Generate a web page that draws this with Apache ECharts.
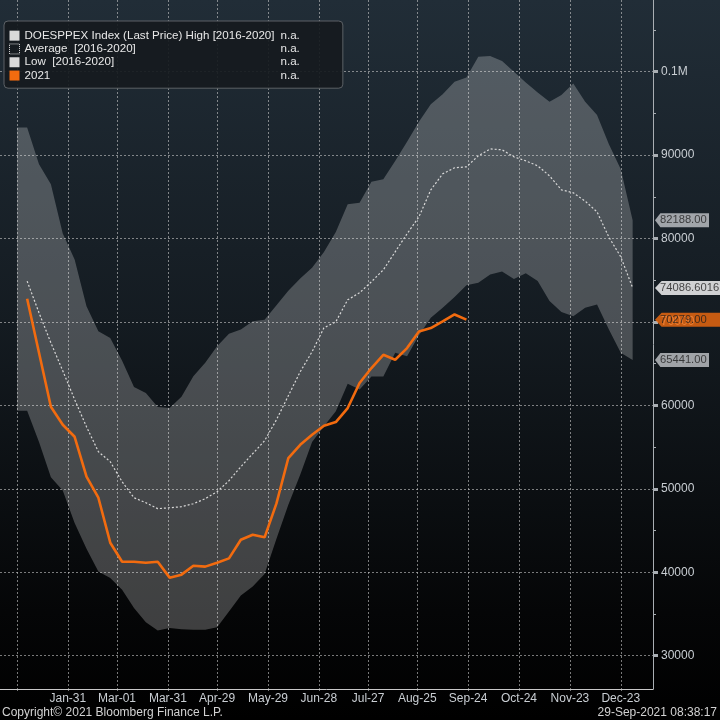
<!DOCTYPE html>
<html>
<head>
<meta charset="utf-8">
<title>DOESPPEX seasonality</title>
<script src="https://cdn.jsdelivr.net/npm/echarts@6/dist/echarts.min.js"></script>
<style>
    html, body { margin: 0; padding: 0; background: #000; }
    #chart { width: 720px; height: 720px; }
</style>
</head>
<body>
<div id="chart"></div>
<script>
    // day of year (0 = Jan 01) of each weekly point
    var weekDays = [0, 6, 13, 20, 27, 34, 41, 48, 55, 62, 69, 76, 83, 90, 97, 104, 111, 118, 125, 132,
        139, 146, 153, 160, 167, 174, 181, 188, 195, 202, 209, 216, 223, 230, 237, 244, 251, 258, 265,
        272, 279, 286, 293, 300, 307, 314, 321, 328, 335, 342, 349, 356, 363];

    var highVals = [93300, 93300, 88900, 86500, 80600, 77500, 71900, 68880, 68070, 65350, 62200, 61500,
        59800, 59700, 61050, 63500, 65100, 67100, 68600, 69100, 70100, 70260, 72000, 73750, 75200, 76500,
        78400, 80800, 84100, 84300, 86800, 87100, 89300, 91600, 94000, 96100, 97300, 98800, 99300, 101800,
        101900, 101300, 100000, 98700, 97500, 96400, 97200, 98600, 96400, 94800, 91300, 88300, 82188];

    var lowVals = [59360, 59360, 55600, 51400, 49800, 45900, 42800, 40100, 39300, 37900, 35700, 34000,
        33000, 33300, 33150, 33100, 33100, 33400, 35300, 37200, 38300, 39800, 44000, 48100, 51700, 55600,
        57500, 59300, 62600, 61900, 63450, 63450, 66300, 65900, 68400, 70500, 71700, 73000, 74400, 74700,
        75700, 76050, 75150, 75850, 74900, 72500, 71200, 70700, 71700, 72100, 69100, 66300, 65441];

    var avgVals = [null, 74900, 71100, 67500, 64150, 60700, 57440, 54450, 53250, 50850, 48930, 48330,
        47620, 47730, 47850, 48210, 48810, 49650, 50970, 52650, 54210, 55760, 58280, 61160, 64030, 66430,
        69300, 70020, 72660, 73500, 74820, 76250, 78410, 80570, 82600, 85840, 87760, 88480, 88600, 89920,
        90750, 90640, 89800, 89320, 88720, 87520, 85840, 85480, 84490, 83200, 80170, 77810, 74086.6016];

    var vals2021 = [null, 72780, 66300, 59840, 57680, 56240, 51450, 48930, 43540, 41260, 41260, 41140,
        41260, 39350, 39710, 40780, 40670, 41140, 41660, 43900, 44500, 44180, 48250, 53690, 55280, 56480,
        57560, 58000, 59680, 62680, 64480, 66070, 65470, 66870, 68860, 69270, 70060, 70900, 70279];

    var tickDays = [30, 59, 89, 118, 148, 178, 207, 236, 266, 296, 326, 356];
    var tickLabels = ['Jan-31', 'Mar-01', 'Mar-31', 'Apr-29', 'May-29', 'Jun-28', 'Jul-27', 'Aug-25',
        'Sep-24', 'Oct-24', 'Nov-23', 'Dec-23'];
    var yTicks = [30000, 40000, 50000, 60000, 70000, 80000, 90000, 100000];
    var yMinorTicks = [35000, 45000, 55000, 65000, 75000, 85000, 95000, 105000];

    var highName = 'DOESPPEX Index (Last Price) High [2016-2020]';
    var avgName = 'Average  [2016-2020]';
    var lowName = 'Low  [2016-2020]';
    var curName = '2021';

    var orange = '#f26b0f';

    function pairs(vals) {
        var out = [];
        for (var i = 0; i < vals.length; i++) {
            out.push([weekDays[i], vals[i]]);
        }
        return out;
    }

    var bandData = weekDays.map(function (d, i) { return [d, lowVals[i], highVals[i]]; });

    function last(arr) { return arr[arr.length - 1]; }

    var tagData = [
        { value: [375, last(highVals)], text: last(highVals).toFixed(2), color: '#c4c7ca', w: 54 },
        { value: [375, last(avgVals)], text: last(avgVals).toFixed(4), color: '#ffffff', w: 66 },
        { value: [375, last(vals2021)], text: last(vals2021).toFixed(2), color: orange, w: 66 },
        { value: [375, last(lowVals)], text: last(lowVals).toFixed(2), color: '#c4c7ca', w: 54 }
    ].map(function (t) {
        return {
            value: t.value,
            symbolSize: [t.w, 14],
            symbolOffset: [t.w / 2 + 2, 0],
            itemStyle: { color: t.color },
            label: { formatter: t.text }
        };
    });

    var myChart = echarts.init(document.getElementById('chart'), null, { renderer: 'canvas' });

    var txt = '#c9ced3';
    var font = 'Liberation Sans';
    var gridLine = { color: 'rgba(200,200,200,0.6)', type: [2, 2], width: 1 };

    var option = {
        animation: false,
        backgroundColor: new echarts.graphic.LinearGradient(0, 0, 0, 1, [
            { offset: 0, color: '#212d37' },
            { offset: 0.45, color: '#141b21' },
            { offset: 0.85, color: '#050607' },
            { offset: 1, color: '#000000' }
        ]),
        textStyle: { fontFamily: font },
        grid: { left: 0, right: 67, top: 0, bottom: 31 },
        title: [
            {
                text: 'Copyright\u00a9 2021 Bloomberg Finance L.P.',
                left: 2, bottom: 1, padding: 0,
                textStyle: { color: '#d2d2d2', fontSize: 12, fontWeight: 'normal', fontFamily: font }
            },
            {
                text: '29-Sep-2021 08:38:17',
                right: 3, bottom: 1, padding: 0,
                textStyle: { color: '#d2d2d2', fontSize: 12, fontWeight: 'normal', fontFamily: font }
            }
        ],
        legend: {
            orient: 'vertical',
            left: 4, top: 21,
            padding: [8, 43, 6, 5],
            itemWidth: 10, itemHeight: 10, itemGap: 0,
            backgroundColor: 'rgba(22,26,30,0.92)',
            borderColor: '#5c6166', borderWidth: 1, borderRadius: 4,
            selectedMode: false,
            textStyle: {
                color: '#e8e8e8', fontSize: 11.6, fontFamily: font, lineHeight: 13.3,
                rich: { a: { width: 256, lineHeight: 13.3 }, b: { lineHeight: 13.3 } }
            },
            formatter: function (name) { return '{a|' + name + '}{b|n.a.}'; },
            data: [
                { name: highName, icon: 'rect', itemStyle: { color: '#d9d9d9', borderWidth: 0 } },
                { name: avgName, icon: 'rect', itemStyle: { color: 'rgba(0,0,0,0)', borderColor: '#dddddd', borderWidth: 1, borderType: 'dotted' } },
                { name: lowName, icon: 'rect', itemStyle: { color: '#d9d9d9', borderWidth: 0 } },
                { name: curName, icon: 'rect', itemStyle: { color: orange, borderWidth: 0 } }
            ]
        },
        xAxis: {
            type: 'value',
            min: -10, max: 375,
            axisLine: { show: true, onZero: false, lineStyle: { color: '#c8c8c8', width: 1 } },
            axisTick: { show: true, length: 2, customValues: [0].concat(tickDays), lineStyle: { color: 'rgba(200,200,200,0.6)', width: 1 } },
            axisLabel: {
                customValues: tickDays,
                color: txt, fontSize: 12, margin: 4, fontFamily: font,
                formatter: function (v) {
                    var i = tickDays.indexOf(v);
                    return i >= 0 ? tickLabels[i] : '';
                }
            },
            splitLine: { show: true, lineStyle: gridLine }
        },
        yAxis: [
            {
                type: 'value',
                position: 'right',
                min: 26000, max: 108600,
                axisLine: { show: true, onZero: false, lineStyle: { color: '#a9aeb3', width: 1 } },
                axisTick: { show: true, length: 5, customValues: yTicks, lineStyle: { color: '#a9aeb3', width: 3 } },
                axisLabel: {
                    customValues: yTicks,
                    color: txt, fontSize: 12, margin: 8, fontFamily: font,
                    formatter: function (v) { return v === 100000 ? '0.1M' : String(v); }
                },
                splitLine: { show: true, lineStyle: gridLine }
            },
            {
                type: 'value',
                position: 'right',
                min: 26000, max: 108600,
                axisLine: { show: false, onZero: false },
                axisTick: { show: true, length: 3, customValues: yMinorTicks, lineStyle: { color: '#a9aeb3', width: 1 } },
                axisLabel: { show: false },
                splitLine: { show: false }
            }
        ],
        series: [
            {
                name: highName,
                type: 'custom',
                silent: true,
                z: 1,
                data: bandData,
                renderItem: function (params, api) {
                    if (params.dataIndex !== 0) return null;
                    var top = [], bottom = [];
                    for (var i = 0; i < bandData.length; i++) {
                        top.push(api.coord([bandData[i][0], bandData[i][2]]));
                        bottom.unshift(api.coord([bandData[i][0], bandData[i][1]]));
                    }
                    return {
                        type: 'polygon',
                        shape: { points: top.concat(bottom) },
                        style: { fill: 'rgba(255,255,255,0.235)', stroke: 'none' }
                    };
                }
            },
            {
                name: lowName,
                type: 'line',
                silent: true,
                symbol: 'none',
                data: pairs(lowVals),
                lineStyle: { opacity: 0 },
                itemStyle: { color: '#d9d9d9' }
            },
            {
                name: avgName,
                type: 'line',
                silent: true,
                symbol: 'none',
                z: 3,
                data: pairs(avgVals),
                lineStyle: { color: '#d8d8d8', width: 1.2, type: [2, 2] },
                itemStyle: { color: '#d8d8d8' }
            },
            {
                name: curName,
                type: 'line',
                silent: true,
                symbol: 'none',
                z: 4,
                data: pairs(vals2021),
                lineStyle: { color: orange, width: 2.6 },
                itemStyle: { color: orange }
            },
            {
                name: 'lastValueTags',
                type: 'scatter',
                silent: true,
                clip: false,
                z: 10,
                symbol: 'path://M0,7 L6,0 L60,0 L60,14 L6,14 Z',
                symbolKeepAspect: false,
                data: tagData,
                label: {
                    show: true,
                    position: 'insideLeft',
                    distance: 5,
                    color: '#1e1e1e',
                    fontSize: 11.2,
                    fontFamily: font
                }
            }
        ]
    };

    myChart.setOption(option);
</script>
</body>
</html>
